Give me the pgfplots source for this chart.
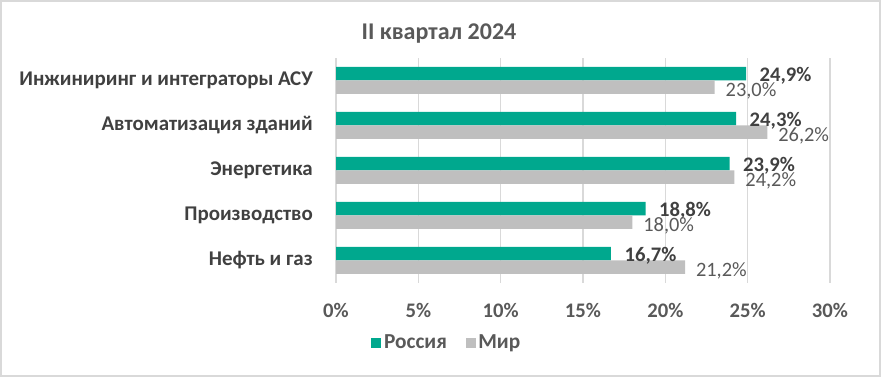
\documentclass[border=0pt]{standalone}
\usepackage{pgfplots}
\pgfplotsset{compat=1.18}
\usepackage{fontspec}
\setmainfont{Carlito}
\definecolor{ru}{HTML}{00A88E}
\definecolor{mir}{HTML}{BFBFBF}
\definecolor{txt}{HTML}{595959}
\definecolor{dark}{HTML}{404040}
\definecolor{gridc}{HTML}{D9D9D9}
\pgfkeys{/pgf/number format/assume math mode=true}
\begin{document}
\begin{tikzpicture}
\useasboundingbox (0pt,0pt) rectangle (660.75pt,282.75pt);
\draw[gridc, line width=1.5pt] (0.75pt,0.75pt) rectangle (660pt,282pt);
\node[font=\fontsize{18}{21}\selectfont\bfseries, text=txt] at (329.25pt,257.75pt) {II квартал 2024};
\begin{axis}[
  at={(252pt,70.5pt)}, anchor=south west,
  scale only axis, width=370.5pt, height=168.75pt,
  xmin=0, xmax=30, xtick={0,5,...,30},
  xticklabel={\pgfmathprintnumber{\tick}\%},
  ymin=-0.5, ymax=4.5, ytick={0,1,2,3,4},
  yticklabels={Нефть и газ, Производство, Энергетика, Автоматизация зданий, Инжиниринг и интеграторы АСУ},
  axis line style={draw=none},
  major tick length=0pt,
  xmajorgrids, grid style={gridc, line width=1.1pt},
  xticklabel style={font=\fontsize{15.5}{18}\selectfont\bfseries, text=txt, anchor=center, inner sep=0pt, yshift=-20.25pt},
  yticklabel style={font=\fontsize{15.7}{18}\selectfont\bfseries, text=dark, anchor=east, inner sep=0pt, xshift=-17.25pt},
  xbar, bar width=10.125pt,
  point meta=x,
  legend style={at={(0.225,-0.267)}, anchor=center, draw=none, fill=none, legend columns=2,
    font=\fontsize{16}{19}\selectfont\bfseries, text=txt,
    /tikz/every even column/.append style={column sep=12pt}},
  legend image code/.code={\fill[#1] (0pt,-3.75pt) rectangle (7.5pt,3.75pt);},
  clip=false,
]
\addplot[fill=ru, draw=none, bar shift=5.06pt,
  nodes near coords={\pgfmathprintnumber[fixed,fixed zerofill,precision=1,use comma]{\pgfplotspointmeta}\%},
  every node near coord/.append style={anchor=west, inner sep=0pt, xshift=10pt, yshift=-1.5pt, font=\fontsize{15.5}{18}\selectfont\bfseries, text=dark}]
  coordinates {(16.7,0) (18.8,1) (23.9,2) (24.3,3) (24.9,4)};
\addplot[fill=mir, draw=none, bar shift=-5.06pt,
  nodes near coords={\pgfmathprintnumber[fixed,fixed zerofill,precision=1,use comma]{\pgfplotspointmeta}\%},
  every node near coord/.append style={anchor=west, inner sep=0pt, xshift=8pt, yshift=-2.5pt, font=\fontsize{15.3}{18}\selectfont, text=txt}]
  coordinates {(21.2,0) (18.0,1) (24.2,2) (26.2,3) (23.0,4)};
\legend{Россия, Мир}
\end{axis}
\end{tikzpicture}
\end{document}
